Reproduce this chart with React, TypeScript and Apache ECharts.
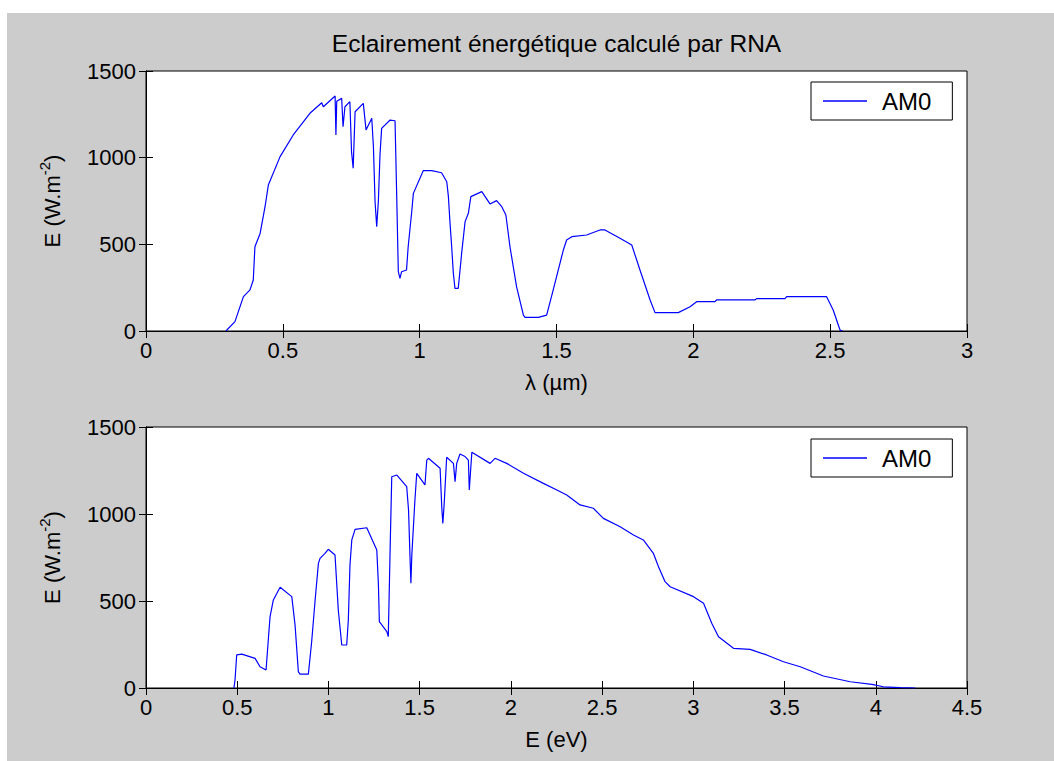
import React, { useEffect, useRef } from "react";
import * as echarts from "echarts";

// ---- Data ----
const lambdaUm = [
  0.292, 0.325, 0.356, 0.38, 0.392, 0.398, 0.417, 0.435, 0.447, 0.49, 0.538, 0.599, 0.642, 0.648,
  0.691, 0.694, 0.697, 0.715, 0.72, 0.727, 0.745, 0.751, 0.757, 0.764, 0.794, 0.804, 0.825, 0.831,
  0.837, 0.843, 0.849, 0.855, 0.861, 0.892, 0.91, 0.916, 0.922, 0.928, 0.934, 0.952, 0.958, 0.971,
  0.977, 1.013, 1.044, 1.08, 1.099, 1.105, 1.111, 1.117, 1.123, 1.129, 1.141, 1.154, 1.166, 1.178,
  1.187, 1.227, 1.257, 1.281, 1.3, 1.315, 1.33, 1.354, 1.379, 1.385, 1.434, 1.464, 1.488, 1.525,
  1.537, 1.556, 1.61, 1.659, 1.677, 1.732, 1.775, 1.805, 1.842, 1.86, 1.945, 1.988, 2.012, 2.079,
  2.085, 2.225, 2.231, 2.335, 2.341, 2.487, 2.511, 2.536, 2.545,
];
const irradianceByLambda = [
  0, 54, 198, 237, 294, 486, 563, 717, 842, 1006, 1131, 1256, 1317, 1294,
  1356, 1131, 1325, 1342, 1179, 1294, 1323, 1035, 939, 1265, 1313, 1160, 1227, 1063,
  746, 602, 746, 1015, 1169, 1217, 1213, 785, 342, 304, 342, 352, 486, 688,
  794, 925, 925, 913, 861, 775, 621, 486, 333, 246, 246, 458, 631, 679,
  775, 804, 733, 752, 717, 669, 486, 256, 92, 79, 79, 92, 237, 467,
  525, 544, 554, 583, 583, 535, 496, 352, 179, 106, 106, 140, 169, 169,
  179, 179, 187, 187, 198, 198, 121, 6, 0,
];

const energyEv = [
  0.482, 0.488, 0.497, 0.525, 0.598, 0.625, 0.658, 0.671, 0.68, 0.698, 0.735, 0.799, 0.817, 0.835,
  0.844, 0.89, 0.908, 0.927, 0.945, 0.954, 0.981, 0.999, 1.036, 1.054, 1.073, 1.1, 1.109, 1.118,
  1.128, 1.146, 1.21, 1.228, 1.265, 1.274, 1.279, 1.32, 1.328, 1.338, 1.347, 1.375, 1.429, 1.439,
  1.447, 1.452, 1.457, 1.474, 1.484, 1.529, 1.539, 1.548, 1.612, 1.621, 1.627, 1.634, 1.648, 1.685,
  1.694, 1.703, 1.721, 1.749, 1.767, 1.772, 1.786, 1.886, 1.913, 1.977, 2.069, 2.178, 2.252, 2.306,
  2.379, 2.452, 2.507, 2.599, 2.672, 2.726, 2.781, 2.809, 2.845, 2.873, 3.001, 3.056, 3.101, 3.138,
  3.22, 3.311, 3.402, 3.494, 3.586, 3.713, 3.86, 3.979, 4.042, 4.134, 4.216,
];
const irradianceByEnergy = [
  0, 46, 190, 195, 170, 122, 103, 286, 410, 506, 579, 525, 362, 94,
  80, 80, 266, 506, 716, 745, 774, 797, 764, 448, 247, 247, 391, 707,
  851, 912, 921, 879, 793, 592, 381, 324, 295, 793, 1214, 1224, 1157, 1023,
  754, 602, 764, 1080, 1234, 1167, 1310, 1320, 1263, 1042, 946, 1052, 1326, 1291,
  1186, 1291, 1345, 1330, 1310, 1138, 1355, 1291, 1320, 1291, 1234, 1176, 1138, 1109,
  1052, 1033, 975, 927, 879, 851, 774, 697, 611, 582, 525, 487, 372, 295,
  228, 222, 190, 151, 122, 69, 36, 21, 7, 2, 0,
];

const yTicks = [0, 500, 1000, 1500];
const seriesName = "AM0";
const titleText = "Eclairement énergétique calculé par RNA";
const xName1 = "λ (µm)";
const xName2 = "E (eV)";
const yName = "E (W.m{s|-2})";

const FONT = '"Liberation Sans", Arial, sans-serif';

export default function App() {
  const ref = useRef<HTMLDivElement>(null);

  useEffect(() => {
    if (!ref.current) return;
    const chart = echarts.init(ref.current, undefined, { renderer: "svg" });

    const labelStyle = { color: "#000", fontSize: 22, fontFamily: FONT };
    const tick = { show: true, inside: true, length: 7, lineStyle: { color: "#000", width: 1 } };
    const line = { show: true, lineStyle: { color: "#000", width: 1 } };
    const plain = (v: number) => String(v);

    const mkX = (grid: number, max: number, pos: "bottom" | "top", name?: string) => ({
      type: "value",
      gridIndex: grid,
      position: pos,
      min: 0,
      max,
      interval: 0.5,
      axisLine: line,
      axisTick: tick,
      splitLine: { show: false },
      axisLabel: {
        show: pos === "bottom",
        margin: 8,
        showMinLabel: true,
        showMaxLabel: true,
        formatter: plain,
        ...labelStyle,
      },
      name: name || "",
      nameLocation: "middle",
      nameGap: 40,
      nameTextStyle: labelStyle,
    });

    const mkY = (grid: number, pos: "left" | "right") => ({
      type: "value",
      gridIndex: grid,
      position: pos,
      min: yTicks[0],
      max: yTicks[yTicks.length - 1],
      interval: yTicks[1] - yTicks[0],
      axisLine: line,
      axisTick: tick,
      splitLine: { show: false },
      axisLabel: {
        show: pos === "left",
        margin: 10,
        showMinLabel: true,
        showMaxLabel: true,
        formatter: plain,
        ...labelStyle,
      },
      name: pos === "left" ? yName : "",
      nameLocation: "middle",
      nameRotate: 90,
      nameGap: 78,
      nameTextStyle: {
        ...labelStyle,
        rich: {
          s: {
            fontSize: 15,
            fontFamily: FONT,
            color: "#000",
            verticalAlign: "top",
            padding: [0, 0, 16, 0],
          },
        },
      },
    });

    const mkLegend = (top: number) => ({
      show: true,
      left: 804,
      top,
      orient: "horizontal",
      data: [seriesName],
      icon: "rect",
      itemWidth: 44,
      itemHeight: 1.5,
      padding: [7, 21, 7, 12],
      borderColor: "#000",
      borderWidth: 1,
      borderRadius: 0,
      backgroundColor: "#fff",
      selectedMode: false,
      textStyle: { ...labelStyle, fontSize: 24, padding: [0, 0, 0, 10] },
    });

    chart.setOption({
      animation: false,
      backgroundColor: "#cccccc",
      title: {
        text: titleText,
        left: 549.5,
        top: 18,
        textAlign: "center",
        padding: 0,
        textStyle: { color: "#000", fontSize: 24.5, fontWeight: "normal", fontFamily: FONT },
      },
      legend: [mkLegend(69), mkLegend(426)],
      grid: [
        { left: 139, top: 58, width: 821, height: 260, show: true, backgroundColor: "#fff", borderColor: "#000", borderWidth: 1 },
        { left: 139, top: 414, width: 821, height: 261, show: true, backgroundColor: "#fff", borderColor: "#000", borderWidth: 1 },
      ],
      xAxis: [mkX(0, 3, "bottom", xName1), mkX(0, 3, "top"), mkX(1, 4.5, "bottom", xName2), mkX(1, 4.5, "top")],
      yAxis: [mkY(0, "left"), mkY(0, "right"), mkY(1, "left"), mkY(1, "right")],
      series: [
        {
          name: seriesName,
          type: "line",
          xAxisIndex: 0,
          yAxisIndex: 0,
          data: lambdaUm.map((x, i) => [x, irradianceByLambda[i]]),
          showSymbol: false,
          symbol: "none",
          lineStyle: { color: "#0000ff", width: 1.2 },
          itemStyle: { color: "#0000ff" },
        },
        {
          name: seriesName,
          type: "line",
          xAxisIndex: 2,
          yAxisIndex: 2,
          data: energyEv.map((x, i) => [x, irradianceByEnergy[i]]),
          showSymbol: false,
          symbol: "none",
          lineStyle: { color: "#0000ff", width: 1.2 },
          itemStyle: { color: "#0000ff" },
        },
      ],
    });

    return () => chart.dispose();
  }, []);

  return (
    <div
      ref={ref}
      style={{ position: "absolute", left: 7, top: 13, width: 1047, height: 748 }}
    />
  );
}
